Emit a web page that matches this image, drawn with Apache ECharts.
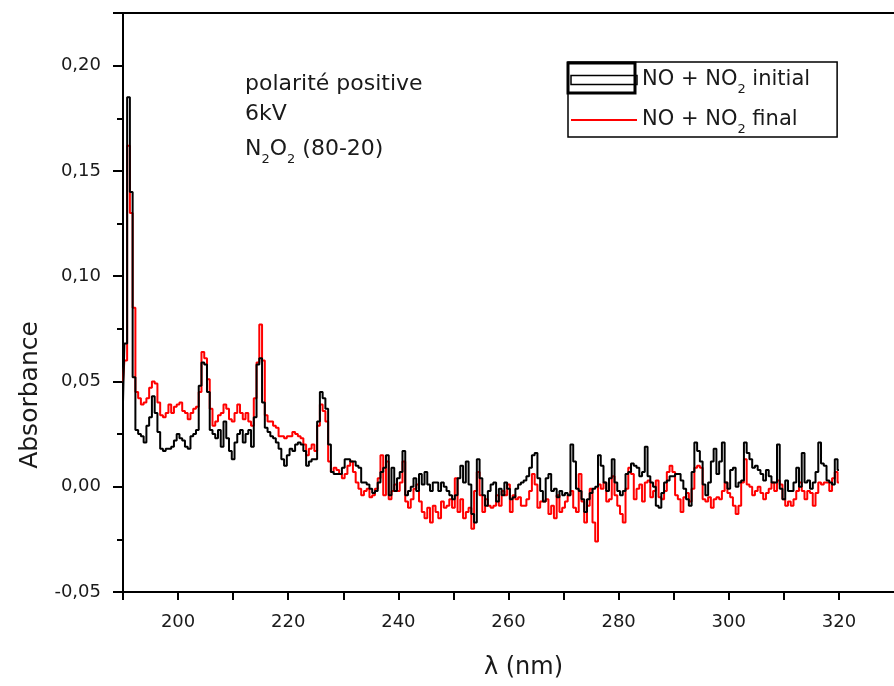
<!DOCTYPE html>
<html><head><meta charset="utf-8">
<script src="https://cdn.jsdelivr.net/npm/echarts@6/dist/echarts.min.js"></script>
<style>html,body{margin:0;padding:0;background:#fff}#c{width:894px;height:686px}</style>
</head><body><div id="c"></div>
<script>
const wavelengths = [
190,190.5,191,191.5,192,192.5,193,193.5,194,194.5,195,195.5,196,196.5,197,197.5,198,198.5,199,199.5,
200,200.5,201,201.5,202,202.5,203,203.5,204,204.5,205,205.5,206,206.5,207,207.5,208,208.5,209,209.5,
210,210.5,211,211.5,212,212.5,213,213.5,214,214.5,215,215.5,216,216.5,217,217.5,218,218.5,219,219.5,
220,220.5,221,221.5,222,222.5,223,223.5,224,224.5,225,225.5,226,226.5,227,227.5,228,228.5,229,229.5,
230,230.5,231,231.5,232,232.5,233,233.5,234,234.5,235,235.5,236,236.5,237,237.5,238,238.5,239,239.5,
240,240.5,241,241.5,242,242.5,243,243.5,244,244.5,245,245.5,246,246.5,247,247.5,248,248.5,249,249.5,
250,250.5,251,251.5,252,252.5,253,253.5,254,254.5,255,255.5,256,256.5,257,257.5,258,258.5,259,259.5,
260,260.5,261,261.5,262,262.5,263,263.5,264,264.5,265,265.5,266,266.5,267,267.5,268,268.5,269,269.5,
270,270.5,271,271.5,272,272.5,273,273.5,274,274.5,275,275.5,276,276.5,277,277.5,278,278.5,279,279.5,
280,280.5,281,281.5,282,282.5,283,283.5,284,284.5,285,285.5,286,286.5,287,287.5,288,288.5,289,289.5,
290,290.5,291,291.5,292,292.5,293,293.5,294,294.5,295,295.5,296,296.5,297,297.5,298,298.5,299,299.5,
300,300.5,301,301.5,302,302.5,303,303.5,304,304.5,305,305.5,306,306.5,307,307.5,308,308.5,309,309.5,
310,310.5,311,311.5,312,312.5,313,313.5,314,314.5,315,315.5,316,316.5,317,317.5,318,318.5,319,319.5,
320];

const absInitial = [
0.040,0.068,0.185,0.140,0.052,0.027,0.025,0.024,0.021,0.029,
0.033,0.043,0.035,0.026,0.018,0.017,0.018,0.018,0.019,0.022,
0.025,0.023,0.022,0.019,0.018,0.024,0.025,0.027,0.048,0.059,
0.058,0.045,0.027,0.025,0.023,0.027,0.019,0.031,0.023,0.017,
0.013,0.021,0.025,0.027,0.021,0.025,0.027,0.019,0.033,0.058,
0.061,0.040,
0.028,0.026,0.024,0.023,0.021,0.018,0.013,0.010,0.015,0.018,0.017,0.020,
0.021,0.020,0.017,0.010,0.012,0.013,0.013,0.031,0.045,0.042,0.037,0.020,
0.007,0.006,0.006,0.006,0.009,0.013,0.013,0.012,0.012,0.010,0.009,0.002,
0.002,0.001,-0.001,-0.003,-0.002,0.002,0.007,0.009,0.015,-0.004,0.009,-0.002,
0.004,0.007,0.017,-0.004,-0.002,0.000,0.004,-0.002,0.006,0.001,
0.007,0.001,-0.002,0.002,0.002,-0.002,0.002,0.000,-0.002,-0.004,
-0.006,-0.004,0.004,0.010,0.002,0.012,0.001,-0.013,-0.017,0.013,
0.004,-0.004,-0.009,-0.002,0.001,0.002,-0.007,-0.001,-0.004,0.002,
-0.001,-0.006,-0.005,-0.001,0.001,0.002,0.003,0.005,0.009,0.015,
0.016,0.004,-0.002,-0.007,0.004,0.006,-0.002,-0.001,-0.005,-0.002,
-0.004,-0.003,-0.004,0.020,0.012,-0.001,-0.002,-0.006,-0.012,-0.006,
-0.003,-0.001,0.000,0.015,0.010,0.002,-0.002,0.004,0.013,0.002,
-0.002,-0.004,-0.002,0.006,0.007,0.011,0.010,0.009,0.005,0.007,
0.019,0.005,0.002,0.000,-0.009,-0.010,-0.003,0.002,0.003,0.005,
0.005,0.006,0.006,0.003,-0.001,-0.006,-0.009,0.007,0.021,0.017,
0.012,0.001,-0.004,0.002,0.012,0.018,0.006,0.012,0.021,0.002,
-0.001,0.008,0.009,0.000,0.002,0.003,0.021,0.016,0.013,0.009,
0.010,0.008,0.006,0.003,0.008,0.005,0.002,0.002,0.020,-0.001,
-0.006,0.003,-0.002,-0.002,0.002,0.009,0.000,0.016,0.002,0.003,
-0.001,0.002,0.007,0.021,0.011,0.010,0.003,0.002,0.001,0.013,
0.008];

const absFinal = [
0.050,0.060,0.162,0.130,0.085,0.045,0.042,0.039,0.040,0.042,
0.047,0.050,0.049,0.040,0.034,0.033,0.035,0.039,0.035,0.038,
0.039,0.040,0.036,0.035,0.032,0.035,0.037,0.038,0.045,0.064,
0.061,0.051,0.037,0.029,0.031,0.034,0.035,0.039,0.037,0.032,
0.031,0.035,0.039,0.035,0.032,0.035,0.031,0.029,0.042,0.059,
0.077,0.060,
0.034,0.031,0.031,0.029,0.028,0.024,0.024,0.023,0.024,0.024,0.026,0.025,
0.024,0.023,0.020,0.015,0.018,0.020,0.017,0.029,0.039,0.036,0.031,0.012,
0.007,0.009,0.008,0.006,0.004,0.006,0.010,0.012,0.007,0.002,-0.001,-0.004,
-0.002,-0.001,-0.005,-0.004,-0.001,0.004,0.015,-0.004,0.012,-0.006,-0.002,0.001,
-0.002,0.002,0.012,-0.007,-0.010,-0.006,-0.001,0.001,-0.007,-0.012,
-0.015,-0.010,-0.017,-0.009,-0.012,-0.015,-0.007,-0.010,-0.009,-0.006,
-0.010,0.004,-0.012,-0.006,-0.015,-0.012,-0.010,-0.020,-0.002,0.007,
-0.004,-0.012,-0.006,-0.009,-0.010,-0.009,-0.004,-0.009,-0.002,-0.004,
0.001,-0.012,-0.004,-0.006,-0.005,-0.009,-0.009,-0.006,-0.002,0.006,
0.001,-0.010,-0.007,-0.007,-0.006,-0.013,-0.009,-0.015,-0.004,-0.012,
-0.010,-0.007,-0.004,-0.002,-0.010,-0.012,0.006,-0.007,-0.017,-0.009,
-0.001,-0.017,-0.026,0.001,-0.001,0.002,-0.007,-0.006,0.005,-0.004,
-0.009,-0.013,-0.017,-0.001,0.009,0.006,-0.006,-0.001,0.001,-0.007,
0.002,0.003,-0.005,-0.002,0.003,-0.005,-0.006,-0.002,0.007,0.010,
0.007,-0.004,-0.006,-0.012,-0.005,-0.003,-0.007,-0.001,0.009,0.010,
0.009,-0.006,-0.007,-0.005,-0.010,-0.006,-0.005,-0.006,-0.002,0.002,
-0.003,-0.005,-0.009,-0.013,-0.009,0.002,0.013,0.001,0.000,-0.004,
-0.002,0.000,-0.003,-0.006,-0.003,-0.001,0.002,-0.002,0.003,0.001,
-0.006,-0.009,-0.007,-0.009,-0.006,-0.002,0.002,-0.002,-0.006,-0.002,
-0.003,-0.009,-0.003,0.002,0.001,0.002,0.002,-0.002,0.004,0.007,
0.002];

const seriesNames = ['NO + NO2 initial', 'NO + NO2 final'];
const annotationLines = ['polarité positive', '6kV', 'N{s|2}O{s|2} (80-20)'];
const xAxisTitle = 'λ (nm)';
const yAxisTitle = 'Absorbance';

const FONT = 'DejaVu Sans';
const TXT = '#1a1a1a';
const chart = echarts.init(document.getElementById('c'), null, {renderer: 'canvas'});
const toPairs = vals => wavelengths.map((w, i) => [w, vals[i]]);
const subRich = { s: { fontFamily: FONT, fontSize: 13, color: TXT, verticalAlign: 'bottom', lineHeight: 32 } };

const option = {
  animation: false,
  backgroundColor: '#fff',
  grid: { left: 123, top: 13, right: -8, bottom: 94, containLabel: false },
  xAxis: [{
    type: 'value', min: 190, max: 330, interval: 10, position: 'bottom',
    name: xAxisTitle, nameLocation: 'middle', nameGap: 64,
    nameTextStyle: { fontFamily: FONT, fontSize: 24, color: TXT, padding: [0, 0, 0, 30] },
    axisLine: { show: true, onZero: false, lineStyle: { color: '#000', width: 2 } },
    axisTick: { show: true, length: 8, lineStyle: { color: '#000', width: 2 } },
    splitLine: { show: false },
    axisLabel: { margin: 21, fontFamily: FONT, fontSize: 18, color: TXT, showMinLabel: true, showMaxLabel: false,
      formatter: v => (v >= 200 && v <= 320 && Math.round(v) % 20 === 0) ? String(Math.round(v)) : '' }
  }, {
    type: 'value', min: 190, max: 330, position: 'top',
    axisLine: { show: true, onZero: false, lineStyle: { color: '#000', width: 2 } },
    axisTick: { show: false }, axisLabel: { show: false }, splitLine: { show: false }
  }],
  yAxis: {
    type: 'value', min: -0.05, max: 0.225, interval: 0.05,
    name: yAxisTitle, nameLocation: 'middle', nameGap: 80, nameRotate: 90,
    nameTextStyle: { fontFamily: FONT, fontSize: 25, color: TXT, padding: [0, 185, 0, 0] },
    axisLine: { show: true, onZero: false, lineStyle: { color: '#000', width: 2 } },
    axisTick: { show: true, length: 10, lineStyle: { color: '#000', width: 2 } },
    minorTick: { show: true, splitNumber: 2, length: 6, lineStyle: { color: '#000', width: 2 } },
    splitLine: { show: false },
    axisLabel: { margin: 22, fontFamily: FONT, fontSize: 18, color: TXT,
      formatter: v => (v > 0.21) ? '' : v.toFixed(2).replace('.', ',') }
  },
  legend: {
    orient: 'vertical', left: 568, top: 62, padding: [2, 27, 1, 2], itemGap: 8,
    itemWidth: 66, itemHeight: 9,
    borderColor: '#000', borderWidth: 1.5, backgroundColor: '#fff',
    textStyle: { fontFamily: FONT, fontSize: 21, color: TXT, lineHeight: 32, rich: subRich },
    formatter: n => n.replace('NO2', 'NO{s|2}'),
    data: [
      { name: seriesNames[0], icon: 'rect', itemStyle: { color: 'rgba(0,0,0,0)', borderColor: '#000', borderWidth: 1.5 } },
      { name: seriesNames[1], itemStyle: { color: 'rgba(0,0,0,0)', borderWidth: 0 } }
    ]
  },
  graphic: [
    { type: 'rect', z: 100, shape: { x: 568, y: 63, width: 67, height: 30 }, style: { fill: 'none', stroke: '#000', lineWidth: 3 } },
    { type: 'text', x: 245, y: 84, style: { text: annotationLines[0], fontFamily: FONT, fontSize: 22, fill: TXT, verticalAlign: 'middle' } },
    { type: 'text', x: 245, y: 114, style: { text: annotationLines[1], fontFamily: FONT, fontSize: 22, fill: TXT, verticalAlign: 'middle' } },
    { type: 'text', x: 245, y: 149, style: { text: annotationLines[2], fontFamily: FONT, fontSize: 22, fill: TXT, verticalAlign: 'middle', lineHeight: 34,
        rich: { s: { fontFamily: FONT, fontSize: 13, fill: TXT, verticalAlign: 'bottom', lineHeight: 34 } } } }
  ],
  series: [
    { name: seriesNames[0], type: 'line', step: 'middle', z: 3, showSymbol: false, symbol: 'none',
      data: toPairs(absInitial), lineStyle: { color: '#000', width: 2 }, itemStyle: { color: '#000' } },
    { name: seriesNames[1], type: 'line', step: 'middle', z: 2, showSymbol: false, symbol: 'none',
      data: toPairs(absFinal), lineStyle: { color: '#ff0000', width: 2 }, itemStyle: { color: '#ff0000' } }
  ]
};
chart.setOption(option);
</script></body></html>
